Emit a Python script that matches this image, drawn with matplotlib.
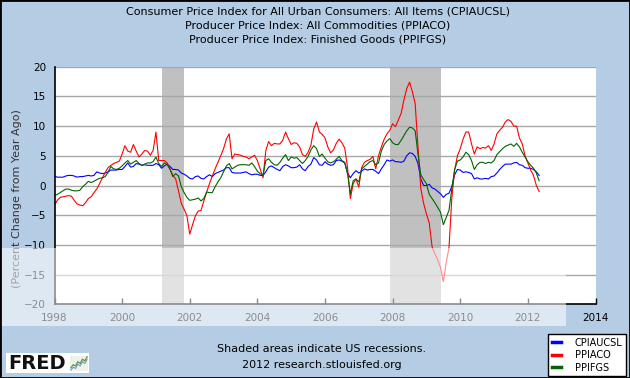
import matplotlib
matplotlib.use("Agg")
import matplotlib.pyplot as plt
import numpy as np
from matplotlib.patches import Rectangle
from matplotlib.lines import Line2D

# monthly year-over-year % change, Jan 1998 .. May 2012
cpiaucsl = [
    1.6, 1.4, 1.4, 1.4, 1.6, 1.7, 1.7, 1.6, 1.4, 1.5, 1.5, 1.6,
    1.7, 1.6, 1.7, 2.3, 2.1, 2.0, 2.1, 2.3, 2.6, 2.6, 2.6, 2.7,
    2.7, 3.2, 3.8, 3.1, 3.2, 3.7, 3.6, 3.4, 3.5, 3.4, 3.4, 3.4,
    3.7, 3.5, 2.9, 3.3, 3.6, 3.2, 2.7, 2.7, 2.6, 2.1, 1.9, 1.6,
    1.2, 1.1, 1.5, 1.6, 1.2, 1.1, 1.5, 1.8, 1.5, 2.0, 2.2, 2.4,
    2.6, 3.0, 3.0, 2.2, 2.1, 2.1, 2.1, 2.2, 2.3, 2.0, 1.8, 1.9,
    1.9, 1.7, 1.7, 2.3, 3.1, 3.3, 3.0, 2.7, 2.5, 3.2, 3.5, 3.3,
    3.0, 3.0, 3.1, 3.5, 2.8, 2.5, 3.2, 3.6, 4.7, 4.3, 3.5, 3.4,
    4.0, 3.6, 3.4, 3.5, 4.2, 4.3, 4.1, 3.8, 2.1, 1.3, 2.0, 2.5,
    2.1, 2.4, 2.8, 2.6, 2.7, 2.7, 2.4, 2.0, 2.8, 3.5, 4.3, 4.1,
    4.3, 4.0, 4.0, 3.9, 4.1, 5.0, 5.5, 5.4, 4.9, 3.7, 1.1, 0.0,
    0.0, 0.2, -0.4, -0.6, -1.0, -1.4, -2.0, -1.5, -1.3, -0.2, 1.8, 2.7,
    2.6, 2.2, 2.3, 2.2, 2.0, 1.1, 1.3, 1.1, 1.1, 1.2, 1.1, 1.5,
    1.6, 2.1, 2.7, 3.2, 3.6, 3.6, 3.6, 3.8, 3.9, 3.5, 3.4, 3.0,
    2.9, 2.9, 2.7, 2.3, 1.7,
]

ppiaco = [
    -3.3, -2.5, -2.0, -1.9, -1.8, -1.7, -1.8, -2.5, -3.1, -3.3, -3.4, -2.9,
    -2.2, -1.9, -1.2, -0.6, 0.3, 1.3, 2.2, 3.0, 3.4, 3.7, 3.9, 4.1,
    5.3, 6.7, 5.8, 5.6, 6.9, 5.8, 4.8, 5.3, 5.9, 5.8, 5.1, 5.9,
    9.0, 4.2, 4.2, 4.2, 3.8, 2.8, 1.7, 1.1, -0.9, -3.0, -4.0, -5.1,
    -8.2, -6.6, -5.1, -4.3, -4.2, -2.6, -1.1, 0.3, 1.6, 2.8, 3.9, 5.0,
    6.2, 7.8, 8.7, 4.5, 5.3, 5.2, 5.1, 4.9, 4.8, 4.5, 4.8, 5.1,
    4.2, 2.8, 1.3, 5.9, 7.4, 6.7, 7.1, 7.0, 7.0, 7.6, 9.0, 7.9,
    6.9, 7.2, 7.1, 6.5, 5.2, 4.9, 5.6, 6.8, 9.5, 10.7, 9.0, 8.6,
    8.0, 6.5, 5.5, 6.0, 7.1, 7.8, 7.2, 6.3, 3.0, -2.2, 0.3, 1.1,
    -0.3, 3.0, 3.9, 4.2, 4.4, 4.9, 2.8, 5.0, 6.5, 7.8, 8.7, 9.3,
    10.4, 9.9, 11.0, 12.1, 14.4, 16.3, 17.4, 15.8, 13.8, 6.5, -0.5, -3.0,
    -4.8, -6.3, -10.3, -11.5, -12.5, -13.8, -16.2, -13.0, -10.5, -2.2, 2.6, 5.0,
    6.2, 7.8, 9.0, 9.0, 7.0, 5.3, 6.5, 6.2, 6.4, 6.3, 6.7, 5.9,
    7.0, 8.7, 9.3, 9.8, 10.7, 11.1, 10.8, 10.0, 10.0, 8.0, 7.0, 5.0,
    3.8, 2.6, 1.7, 0.0, -1.0,
]

ppifgs = [
    -1.7, -1.5, -1.2, -0.9, -0.6, -0.6, -0.8, -0.9, -0.9, -0.8, -0.2, 0.2,
    0.7, 0.5, 0.7, 1.0, 1.2, 1.3, 1.5, 2.2, 3.2, 2.8, 2.7, 2.9,
    3.3, 3.8, 4.2, 3.6, 3.9, 4.2, 3.7, 3.4, 3.6, 3.8, 3.8, 4.0,
    4.8, 3.7, 3.2, 3.8, 3.5, 2.7, 1.5, 2.0, 1.6, -0.2, -1.2, -2.0,
    -2.5, -2.4, -2.3, -2.1, -2.6, -2.2, -1.1, -1.2, -1.2, -0.2, 0.6, 1.3,
    2.3, 3.3, 3.7, 2.8, 3.1, 3.4, 3.5, 3.5, 3.5, 3.4, 3.8, 3.2,
    2.4, 2.0, 1.7, 4.2, 4.5, 3.9, 3.5, 3.4, 3.9, 4.6, 5.2, 4.2,
    4.8, 4.6, 4.7, 4.2, 3.7, 4.2, 4.9, 6.0, 6.7, 6.2, 4.9, 5.3,
    4.6, 4.0, 3.8, 4.0, 4.4, 4.9, 4.2, 3.9, 2.0, -1.4, 0.8, 1.1,
    0.6, 2.8, 3.2, 3.6, 4.0, 4.2, 3.5, 3.8, 5.8, 6.9, 7.5, 7.9,
    7.2, 6.9, 6.9, 7.6, 8.4, 9.2, 9.8, 9.7, 9.2, 5.3, 1.8, 1.0,
    0.3, -1.5, -2.2, -2.9, -3.7, -4.5, -6.6, -5.4, -4.2, -0.6, 2.7, 4.1,
    4.3, 4.8, 5.6, 5.2, 4.2, 2.7, 3.5, 3.9, 3.9, 3.7, 3.9, 3.8,
    4.2, 5.2, 5.7, 6.2, 6.6, 6.8, 7.0, 6.6, 7.1, 6.5, 5.6, 4.8,
    4.0, 3.4, 2.9, 2.1, 0.8,
]

series_names = ["CPIAUCSL", "PPIACO", "PPIFGS"]
series_colors = ["#0000FF", "#FF0000", "#006400"]
recessions = [(2001 + 2 / 12, 2001 + 10 / 12), (2007 + 11 / 12, 2009 + 5 / 12)]
title_lines = [
    "Consumer Price Index for All Urban Consumers: All Items (CPIAUCSL)",
    "Producer Price Index: All Commodities (PPIACO)",
    "Producer Price Index: Finished Goods (PPIFGS)",
]

W, H = 630, 378
bg = "#B4CDE4"
fig = plt.figure(figsize=(W / 100, H / 100), dpi=100, facecolor=bg)

left, right, top, bottom = 54.5, 595.5, 66.7, 304.3
ax = fig.add_axes([left / W, 1 - bottom / H, (right - left) / W, (bottom - top) / H])
ax.set_facecolor("white")

t = 1998 + np.arange(len(cpiaucsl)) / 12
for vals, name, col in zip([cpiaucsl, ppiaco, ppifgs], series_names, series_colors):
    ax.plot(t, vals, color=col, lw=0.8, label=name, zorder=3)

for a, b in recessions:
    ax.axvspan(a, b, color="#C0C0C0", lw=0, zorder=1)

ax.set_xlim(1998, 2014)
ax.set_ylim(-20, 20)
ax.set_xticks(range(1998, 2015, 2))
ax.set_yticks(range(-20, 21, 5))
ax.yaxis.grid(True, color="#A8A8A8", lw=1, zorder=2)
ax.set_axisbelow(False)
for s in ["top", "right"]:
    ax.spines[s].set_visible(False)
for s in ["left", "bottom"]:
    ax.spines[s].set_color("black")
    ax.spines[s].set_linewidth(1.2)
    ax.spines[s].set_zorder(4)
ax.tick_params(axis="x", direction="in", length=4, width=1, colors="black",
               labelsize=7.5, pad=6)
ax.tick_params(axis="y", length=0, labelsize=7.5, pad=6, colors="black")

fig.text(17 / W, 1 - 199 / H, "(Percent Change from Year Ago)", rotation=90,
         ha="center", va="center", fontsize=8, color="#333333")

for i, line in enumerate(title_lines):
    fig.text(318 / W, 1 - (12 + 13.5 * i) / H, line, ha="center", va="center",
             fontsize=8, color="black")

# translucent band across the lower left of the picture
fig.add_artist(Rectangle((0, 1 - 326 / H), 566 / W, 78 / H, transform=fig.transFigure,
                         facecolor="white", alpha=0.55, lw=0, zorder=10))

fig.text(321.5 / W, 1 - 349 / H, "Shaded areas indicate US recessions.",
         ha="center", va="center", fontsize=8, color="black", zorder=11)
fig.text(321.5 / W, 1 - 365 / H, "2012 research.stlouisfed.org",
         ha="center", va="center", fontsize=8, color="black", zorder=11)

handles = [Line2D([], [], color=c, lw=2.5) for c in series_colors]
leg = fig.legend(handles, series_names, loc="lower right",
                 bbox_to_anchor=(626 / W, 2 / H), fontsize=7, frameon=True,
                 fancybox=False, edgecolor="black", framealpha=1,
                 handlelength=1.0, handletextpad=1.4, borderpad=0.35,
                 labelspacing=0.25, borderaxespad=0)
leg.get_frame().set_linewidth(1)

# FRED logo
fig.add_artist(Rectangle((6 / W, 1 - 373 / H), 83 / W, 20 / H, transform=fig.transFigure,
                         facecolor="white", lw=0, zorder=11))
fig.text(8 / W, 1 - 363.5 / H, "FRED", ha="left", va="center", fontsize=14,
         fontweight="bold", color="#111111", zorder=12, family="DejaVu Sans")
icon = fig.add_axes([70 / W, 1 - 371 / H, 18 / W, 15 / H], zorder=12)
icon.set_facecolor("#EEF2EA")
logo_trend = [1, 2, 1.6, 3, 2.4, 3.8, 3.2, 4.6]
icon.plot(logo_trend, color="#5A9A3A", lw=0.9)
icon.plot([v - 0.8 for v in logo_trend], color="#6B8FC8", lw=0.7)
icon.set_xticks([])
icon.set_yticks([])
for s in icon.spines.values():
    s.set_visible(False)

fig.add_artist(Rectangle((0, 0), 1, 1, transform=fig.transFigure, fill=False,
                         edgecolor="black", lw=2, zorder=20))

fig.savefig("out.png", dpi=100, facecolor=bg)
